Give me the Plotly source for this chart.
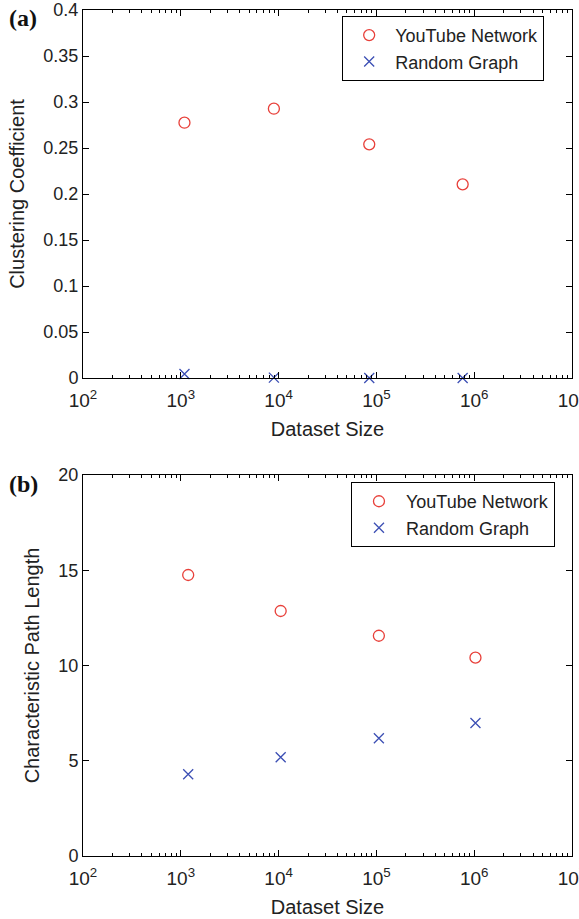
import plotly.graph_objects as go

# ---- data ----
size_a = [1090, 8950, 84500, 762000]
yt_clustering = [0.2775, 0.2927, 0.254, 0.2105]
rg_clustering = [0.0043, 0.0004, 0.0001, 0.00002]

size_b = [1190, 10500, 106000, 1030000]
yt_pathlen = [14.75, 12.86, 11.56, 10.41]
rg_pathlen = [4.29, 5.18, 6.18, 6.98]

series_names = ["YouTube Network", "Random Graph"]
xtick_vals = [1e2, 1e3, 1e4, 1e5, 1e6, 1e7]
xtick_text = ["10<sup>2</sup>", "10<sup>3</sup>", "10<sup>4</sup>",
              "10<sup>5</sup>", "10<sup>6</sup>", "10<sup>7</sup>"]
ytick_a = [0, 0.05, 0.1, 0.15, 0.2, 0.25, 0.3, 0.35, 0.4]
ytick_a_text = ["0", "0.05", "0.1", "0.15", "0.2", "0.25", "0.3", "0.35", "0.4"]
ytick_b = [0, 5, 10, 15, 20]

RED = "#e8403a"
BLUE = "#3c4fb4"
FONT = "Liberation Sans, Arial, sans-serif"
TXT = "#222222"

fig = go.Figure()

def add_pair(xs, y1, y2, xa, ya, leg):
    fig.add_trace(go.Scatter(x=xs, y=y1, mode="markers", name=series_names[0],
                             xaxis=xa, yaxis=ya, legend=leg, cliponaxis=False,
                             marker=dict(symbol="circle-open", size=11, color=RED,
                                         line=dict(width=1.3, color=RED))))
    fig.add_trace(go.Scatter(x=xs, y=y2, mode="markers", name=series_names[1],
                             xaxis=xa, yaxis=ya, legend=leg, cliponaxis=False,
                             marker=dict(symbol="x-thin-open", size=10, color=BLUE,
                                         line=dict(width=1.3, color=BLUE))))

add_pair(size_a, yt_clustering, rg_clustering, "x", "y", "legend")
add_pair(size_b, yt_pathlen, rg_pathlen, "x2", "y2", "legend2")

xcommon = dict(type="log", range=[2, 7], tickvals=xtick_vals, ticktext=xtick_text,
               automargin=False, ticklabeloverflow="allow", ticklabelstandoff=5,
               showgrid=False, zeroline=False, showline=True, linecolor="black",
               linewidth=1, mirror="allticks", ticks="inside", ticklen=6,
               tickcolor="black",
               minor=dict(ticks="inside", ticklen=3, tickcolor="black", dtick="D1",
                          showgrid=False),
               tickfont=dict(family=FONT, size=19, color=TXT),
               title=dict(text="Dataset Size", standoff=12,
                          font=dict(family=FONT, size=20, color=TXT)))
ycommon = dict(showgrid=False, zeroline=False, showline=True, linecolor="black",
               automargin=False,
               linewidth=1, mirror="allticks", ticks="inside", ticklen=6,
               tickcolor="black", tickfont=dict(family=FONT, size=18, color=TXT))

legfont = dict(family=FONT, size=18, color=TXT)

fig.update_layout(
    width=579, height=919,
    margin=dict(l=83, r=7, t=10, b=63),
    plot_bgcolor="white", paper_bgcolor="white",
    showlegend=True,
    xaxis=dict(xcommon, domain=[0, 1], anchor="y"),
    yaxis=dict(ycommon, domain=[0.565, 1], anchor="x", range=[0, 0.4],
               tickvals=ytick_a, ticktext=ytick_a_text,
               title=dict(text="Clustering Coefficient", standoff=13,
                          font=dict(family=FONT, size=20, color=TXT))),
    xaxis2=dict(xcommon, domain=[0, 1], anchor="y2"),
    yaxis2=dict(ycommon, domain=[0, 0.4504], anchor="x2", range=[0, 20],
                tickvals=ytick_b,
                title=dict(text="Characteristic Path Length", standoff=13,
                           font=dict(family=FONT, size=20, color=TXT))),
    legend=dict(x=0.53, y=0.993, xanchor="left", yanchor="top", itemwidth=42,
                bgcolor="white", bordercolor="black", borderwidth=1,
                font=legfont, tracegroupgap=0),
    legend2=dict(x=0.548, y=0.442, xanchor="left", yanchor="top", itemwidth=44,
                 bgcolor="white", bordercolor="black", borderwidth=1,
                 font=legfont, tracegroupgap=0),
    annotations=[
        dict(text="<b>(a)</b>", xref="paper", yref="paper", x=-0.155, y=1.008,
             xanchor="left", yanchor="top", showarrow=False,
             font=dict(family="Liberation Serif, Times New Roman, serif", size=24, color="#111")),
        dict(text="<b>(b)</b>", xref="paper", yref="paper", x=-0.155, y=0.458,
             xanchor="left", yanchor="top", showarrow=False,
             font=dict(family="Liberation Serif, Times New Roman, serif", size=24, color="#111")),
    ],
)

fig.write_html("out.html", config={"displayModeBar": False},
               post_script="document.body.style.margin='0';")
